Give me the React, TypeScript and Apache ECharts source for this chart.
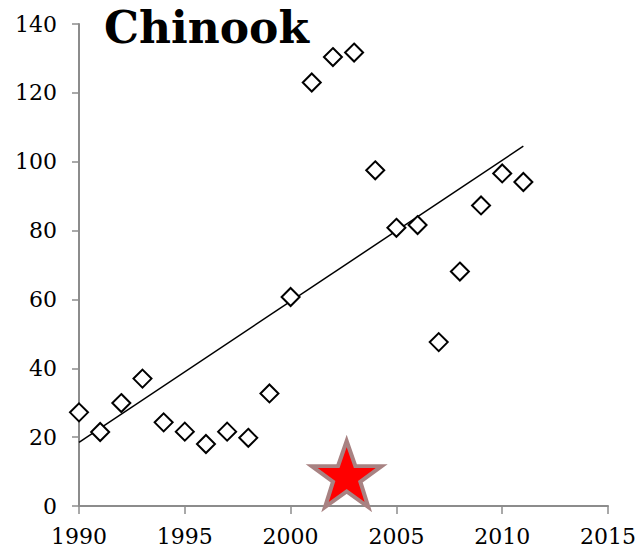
import React, { useEffect, useRef } from "react";
import * as echarts from "echarts";

const years = [1990, 1991, 1992, 1993, 1994, 1995, 1996, 1997, 1998, 1999, 2000, 2001, 2002, 2003, 2004, 2005, 2006, 2007, 2008, 2009, 2010, 2011];
const counts = [27.2, 21.5, 29.9, 37.0, 24.3, 21.6, 18.0, 21.6, 19.8, 32.7, 60.7, 123.0, 130.4, 131.7, 97.5, 80.8, 81.6, 47.6, 68.1, 87.3, 96.6, 94.1];
const trendYears = [1990, 2011];
const trendValues = [18.5, 104.5];
const starPoint = [2002.65, 9.3];
const titleText = "Chinook";

const STAR = "path://M50,0 L61.8,34.5 L97.6,34.5 L68.6,55.9 L79.4,90.5 L50,69.1 L20.6,90.5 L31.4,55.9 L2.4,34.5 L38.2,34.5 Z";

export default function App() {
  const ref = useRef<HTMLDivElement>(null);
  useEffect(() => {
    if (!ref.current) return;
    const chart = echarts.init(ref.current, null, { renderer: "svg" });
    const font = "DejaVu Serif";
    chart.setOption({
      animation: false,
      backgroundColor: "#ffffff",
      title: {
        text: titleText,
        left: 99,
        top: 0,
        textStyle: { fontFamily: font, fontWeight: "bold", fontSize: 44, color: "#000" },
      },
      grid: { left: 79, right: 29, top: 24, bottom: 48, containLabel: false },
      xAxis: {
        type: "value",
        min: 1990,
        max: 2015,
        interval: 5,
        axisLine: { show: true, lineStyle: { color: "#8c8c8c", width: 2 } },
        axisTick: { show: true, length: 8, lineStyle: { color: "#8c8c8c", width: 1.5 } },
        axisLabel: { fontFamily: font, fontSize: 22, color: "#000", margin: 19, formatter: (v: number) => String(v) },
        splitLine: { show: false },
      },
      yAxis: {
        type: "value",
        min: 0,
        max: 140,
        interval: 20,
        axisLine: { show: true, lineStyle: { color: "#8c8c8c", width: 2 } },
        axisTick: { show: true, length: 7, lineStyle: { color: "#8c8c8c", width: 1.5 } },
        axisLabel: { fontFamily: font, fontSize: 22, color: "#000", margin: 22, formatter: (v: number) => String(v) },
        splitLine: { show: false },
      },
      series: [
        {
          type: "line",
          data: trendYears.map((y, i) => [y, trendValues[i]]),
          symbol: "none",
          lineStyle: { color: "#000", width: 1.5 },
          z: 2,
        },
        {
          type: "scatter",
          data: years.map((y, i) => [y, counts[i]]),
          symbol: "diamond",
          symbolSize: 18,
          itemStyle: { color: "#fff", borderColor: "#000", borderWidth: 2, opacity: 1 },
          z: 3,
        },
        {
          type: "scatter",
          data: [starPoint],
          symbol: STAR,
          symbolSize: [70, 66],
          itemStyle: {
            color: "#ff0000",
            borderColor: "#a88282",
            borderWidth: 4,
            borderJoin: "miter",
            borderMiterLimit: 10,
            opacity: 1,
          },
          z: 5,
        },
      ],
    });
    return () => chart.dispose();
  }, []);
  return <div ref={ref} style={{ width: 639, height: 554, position: "absolute", left: 0, top: 0 }} />;
}
